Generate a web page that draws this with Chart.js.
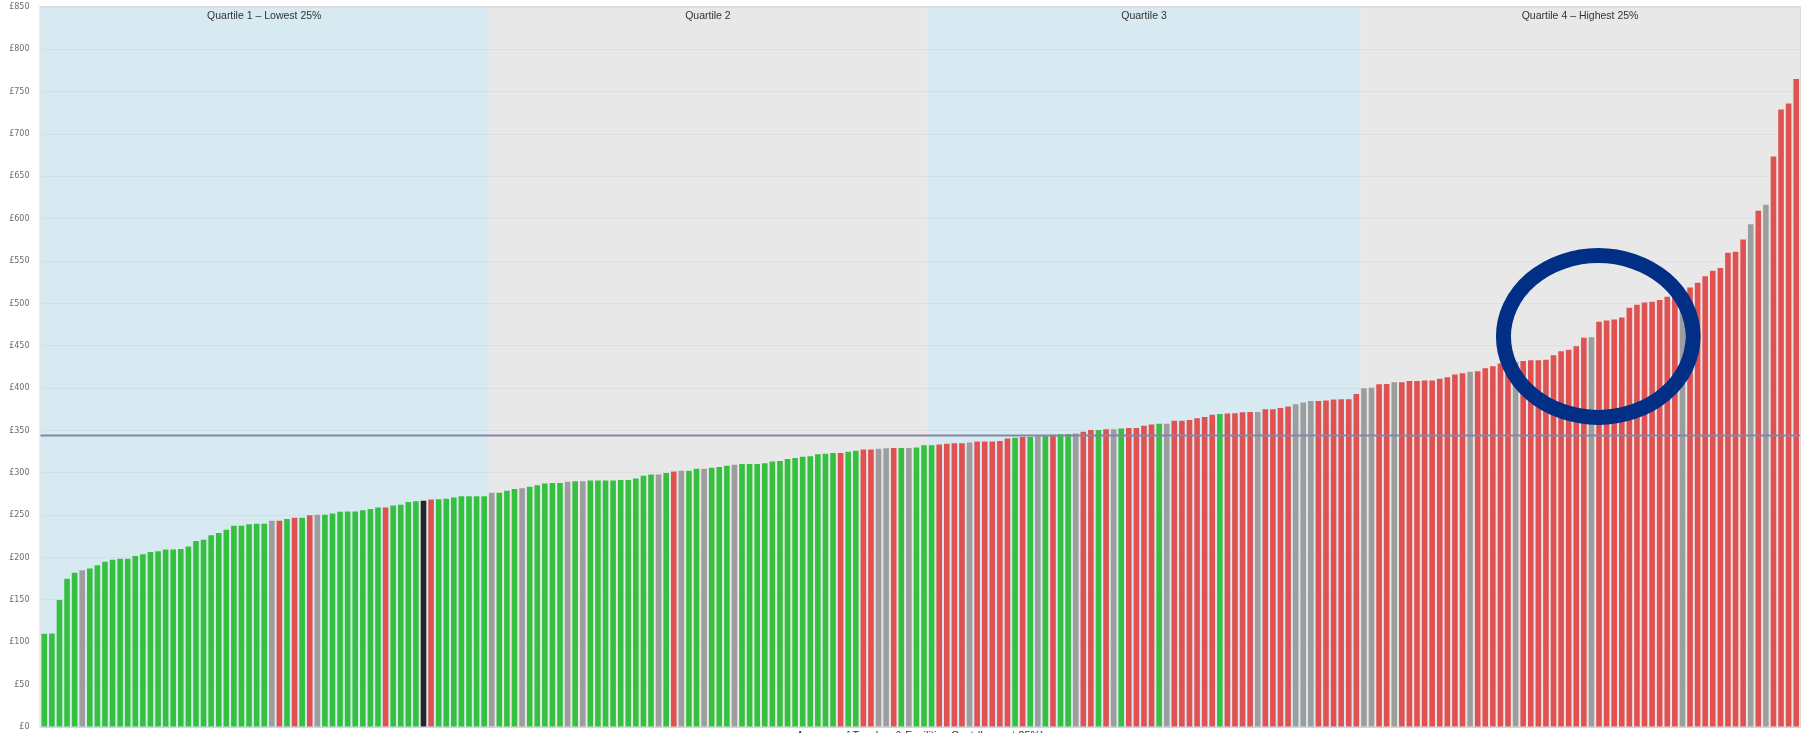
<!DOCTYPE html>
<html>
<head>
<meta charset="utf-8">
<script src="https://cdn.jsdelivr.net/npm/chart.js@4.4.1/dist/chart.umd.min.js"></script>
<style>
  body { margin: 0; background: #fff; }
  #wrap { width: 1808px; height: 733px; }
</style>
</head>
<body>
<div id="wrap"><canvas id="costChart" width="1808" height="733"></canvas></div>
<script>
// cost per school, sorted low to high, one array per quartile
const q1Values = [110, 110.5, 150, 175, 182, 185, 187, 191, 195, 197.5, 198.5, 198.5, 202, 204, 206.5,
  207.5, 209.5, 209.5, 210, 213, 219.5, 221, 226.5, 229, 233, 237.5, 237.5, 239.5, 240, 240, 243.5,
  243.5, 245.5, 247, 247, 250, 250.5, 250.5, 252, 254, 254.5, 254.5, 256, 257.5, 259, 259, 261.5,
  262.5, 265.5, 266.5, 267, 268.5, 269, 269.5, 271, 272.5, 272.5, 272.5, 272.5];
const q2Values = [276.5, 276.5, 279, 281, 282, 283.5, 285.5, 287.5, 288, 288, 289.5, 290, 290, 291,
  291, 291, 291, 291.5, 291.5, 293.5, 296.5, 298, 298, 300, 301.5, 302.5, 302.5, 305, 305, 306, 307,
  308.5, 309.5, 310.5, 310.5, 310.5, 311.5, 313.5, 314, 316.5, 317.5, 319, 319.5, 322, 322.5, 323.5,
  323.5, 325, 326, 327.5, 327.5, 328.5, 329, 329.5, 329.5, 329.5, 330, 332.5];
const q3Values = [332.5, 333.5, 334.5, 335, 335, 336, 337, 337, 337, 337.5, 340.5, 341.5, 342.5,
  342.5, 343.5, 344.5, 345, 345.5, 346, 346.5, 348.5, 350.5, 350.5, 351.5, 351.5, 352.5, 353, 353,
  355.5, 357, 358, 358, 361.5, 361.5, 362.5, 364.5, 366, 368.5, 369.5, 370, 370.5, 371.5, 372, 372,
  375, 375, 376.5, 378.5, 381, 383, 385, 385, 385.5, 386.5, 387, 387, 393];
const q4Values = [400, 400.5, 404.5, 405, 407, 407, 408.5, 408.5, 409, 409, 411, 413, 416, 417.5,
  419.5, 420, 423.5, 426, 429, 430, 431, 432, 433, 433, 433.5, 439, 443.5, 445.5, 449.5, 459.5, 460,
  478.5, 480, 481, 483.5, 495, 498.5, 501, 502, 504, 508, 509.5, 513.5, 519, 524.5, 532, 538.5, 542,
  560, 561, 575.5, 593.5, 609.5, 616.5, 673.5, 729, 736, 765];

// G = green, R = red, N = grey, K = this school
const q1Status = 'GGGGGNGGGGGGGGGGGGGGGGGGGGGGGGNRGRGRNGGGGGGGGRGGGGKRGGGGGGG';
const q2Status = 'NGGGNGGGGGNGNGGGGGGGGGNGRNGGNGGGNGGGGGGGGGGGGGRGGRRNNRGNGG';
const q3Status = 'GRRRRNRRRRRGRGNGRGGNRRGRNGRRRRGNRRRRRRGRRRRNRRRRNNNRRRRRR';
const q4Status = 'NNRRNRRRRRRRRRNRRRRRNRRRRRRRRRNRRRRRRRRRRRNRRRRRRRRNRNRRRR';

const quartileNames = ['Quartile 1 \u2013 Lowest 25%', 'Quartile 2', 'Quartile 3', 'Quartile 4 \u2013 Highest 25%'];
const quartileSizes = [q1Values.length, q2Values.length, q3Values.length, q4Values.length];
const average = 345;
const xTitle = 'Average of Teacher & Facilities Cost (Lowest 25%)';

const values = q1Values.concat(q2Values, q3Values, q4Values);
const status = (q1Status + q2Status + q3Status + q4Status).split('');
const labels = values.map((v, i) => 'School ' + (i + 1));

const statusColours = { G: '#36c040', R: '#e05252', N: '#9d9d9d', K: '#262626' };
const bandColours = ['#d7eaf1', '#e8e8e8', '#d7eaf1', '#e8e8e8'];

// ring drawn round the part of quartile 4 being discussed
const ring = { index: 204.9, value: 461, halfCols: 12.5, halfValue: 95.5 };

const backdrop = {
  id: 'backdrop',
  beforeDraw(chart) {
    const { ctx, chartArea: a, scales: { x } } = chart;
    const w = x.width / labels.length;
    let start = 0;
    ctx.save();
    quartileSizes.forEach((n, q) => {
      const left = x.getPixelForValue(start) - w / 2;
      const right = x.getPixelForValue(start + n - 1) + w / 2;
      ctx.fillStyle = bandColours[q];
      ctx.fillRect(left, a.top, right - left, a.bottom - a.top);
      start += n;
    });
    ctx.strokeStyle = '#dcdcdc';
    ctx.lineWidth = 1;
    ctx.strokeRect(a.left - 0.5, a.top - 0.5, a.right - a.left + 1, a.bottom - a.top + 1);
    ctx.restore();
  },
  afterDatasetsDraw(chart) {
    const { ctx, chartArea: a, scales: { x, y } } = chart;
    ctx.save();
    // quartile names
    ctx.fillStyle = '#333';
    ctx.font = '10.5px "Liberation Sans", Arial, sans-serif';
    ctx.textAlign = 'center';
    ctx.textBaseline = 'middle';
    let start = 0;
    quartileSizes.forEach((n, q) => {
      const mid = (x.getPixelForValue(start) + x.getPixelForValue(start + n - 1)) / 2;
      ctx.fillText(quartileNames[q], mid, a.top + 9);
      start += n;
    });
    // average line
    const ay = Math.round(y.getPixelForValue(average)) + 0.5;
    ctx.strokeStyle = '#8884a6';
    ctx.lineWidth = 2;
    ctx.beginPath();
    ctx.moveTo(a.left, ay);
    ctx.lineTo(a.right, ay);
    ctx.stroke();
    // ring
    const cx = x.getPixelForValue(ring.index);
    const cy = y.getPixelForValue(ring.value);
    const rx = x.getPixelForValue(ring.index + ring.halfCols) - cx;
    const ry = cy - y.getPixelForValue(ring.value + ring.halfValue);
    ctx.strokeStyle = '#012f86';
    ctx.lineWidth = 15;
    ctx.beginPath();
    ctx.ellipse(cx, cy, rx, ry, 0, 0, Math.PI * 2);
    ctx.stroke();
    ctx.restore();
  },
  afterDraw(chart) {
    const { ctx, chartArea: a } = chart;
    ctx.save();
    ctx.fillStyle = '#333';
    ctx.font = '11px "Liberation Sans", Arial, sans-serif';
    ctx.textAlign = 'center';
    ctx.textBaseline = 'top';
    ctx.fillText(xTitle, (a.left + a.right) / 2, a.bottom + 3);
    ctx.restore();
  }
};

new Chart(document.getElementById('costChart'), {
  type: 'bar',
  data: {
    labels: labels,
    datasets: [{
      data: values,
      backgroundColor: status.map(s => statusColours[s]),
      borderWidth: 0,
      categoryPercentage: 1,
      barPercentage: 0.74
    }]
  },
  options: {
    responsive: false,
    animation: false,
    layout: { padding: { top: 7, right: 8, bottom: 6, left: 0 } },
    plugins: { legend: { display: false }, tooltip: { enabled: false } },
    scales: {
      x: {
        ticks: { display: false },
        grid: { display: false },
        border: { display: false },
        afterFit(scale) {
          scale.height = 0;
          scale.paddingLeft = 0;
          scale.paddingRight = 0;
        }
      },
      y: {
        min: 0,
        max: 850,
        ticks: {
          stepSize: 50,
          padding: 11,
          color: '#6b6b6b',
          font: { family: '"DejaVu Sans", Verdana, sans-serif', size: 8 },
          callback: v => '\u00a3' + v
        },
        grid: { color: 'rgba(0,0,0,0.035)', drawTicks: false },
        border: { display: false },
        afterFit(scale) {
          scale.width = 40.5;
          scale.paddingTop = 0;
          scale.paddingBottom = 0;
        }
      }
    }
  },
  plugins: [backdrop]
});
</script>
</body>
</html>
